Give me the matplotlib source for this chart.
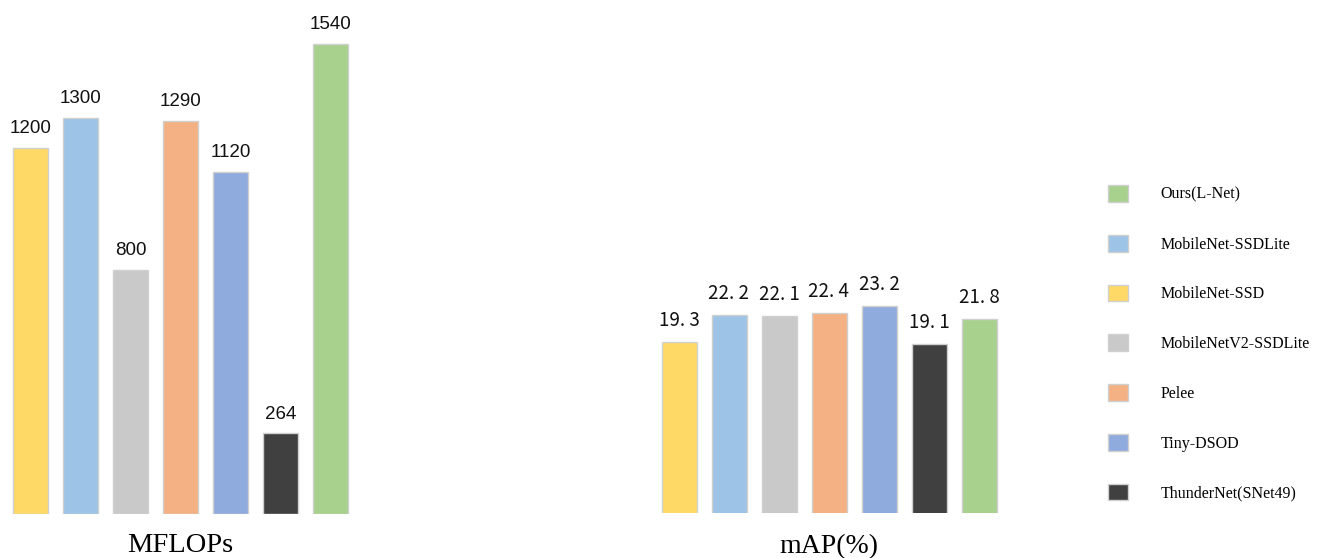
import matplotlib
matplotlib.use('Agg')
import matplotlib.pyplot as plt
from matplotlib.patches import Patch

# data
models = ['MobileNet-SSD', 'MobileNet-SSDLite', 'MobileNetV2-SSDLite', 'Pelee',
          'Tiny-DSOD', 'ThunderNet(SNet49)', 'Ours(L-Net)']
mflops = [1200, 1300, 800, 1290, 1120, 264, 1540]
map_vals = [19.3, 22.2, 22.1, 22.4, 23.2, 19.1, 21.8]
colors = ['#FFD966', '#9DC3E6', '#C9C9C9', '#F4B183', '#8FAADC', '#404040', '#A9D18E']
legend_order = ['Ours(L-Net)', 'MobileNet-SSDLite', 'MobileNet-SSD', 'MobileNetV2-SSDLite',
                'Pelee', 'Tiny-DSOD', 'ThunderNet(SNet49)']

W, H = 1320, 558
fig = plt.figure(figsize=(W / 100, H / 100), dpi=100)

def px_axes(x0, x1, y_top, y_bot):
    return fig.add_axes([x0 / W, 1 - y_bot / H, (x1 - x0) / W, (y_bot - y_top) / H])

x = list(range(len(models)))

# left panel: MFLOPs
ax1 = px_axes(0, 360, 20, 514)
ax1.bar(x, mflops, width=0.7, color=colors, edgecolor='#D0D0D0', linewidth=1)
for i, v in enumerate(mflops):
    ax1.text(i, v + 36, str(v), ha='center', va='bottom', fontsize=13.5,
             family=['Liberation Sans', 'DejaVu Sans'], color='#111111')
ax1.set_xlim(-0.61, 6.59)
ax1.set_ylim(0, 1620)
ax1.axis('off')
fig.text(180 / W, 1 - 552 / H, 'MFLOPs', ha='center', va='baseline', fontsize=20.5,
         family='Liberation Serif')

# right panel: mAP (value axis does not start at zero)
ax2 = px_axes(629, 1029, 20, 513)
ax2.bar(x, map_vals, width=0.7, color=colors, edgecolor='#D0D0D0', linewidth=1)
for i, v in enumerate(map_vals):
    ax2.text(i, v + 1.2, f'{v:.1f}'.replace('.', '. '), ha='center', va='bottom', fontsize=13.5,
             family=['Noto Sans CJK SC', 'DejaVu Sans'], color='#111111')
ax2.set_xlim(-1, 7)
ax2.set_ylim(1.0, 53.8)
ax2.axis('off')
fig.text(829 / W, 1 - 553 / H, 'mAP(%)', ha='center', va='baseline', fontsize=20,
         family='Liberation Serif')

# legend
handles = [Patch(facecolor=colors[models.index(m)], edgecolor='#D0D0D0', label=m)
           for m in legend_order]
fig.legend(handles=handles, loc='upper left', bbox_to_anchor=(1108 / W, 1 - 185 / H),
           frameon=False, borderpad=0, borderaxespad=0,
           prop={'family': 'Liberation Serif', 'size': 11.5},
           handlelength=1.25, handleheight=1.25, handletextpad=2.05, labelspacing=2.0)

fig.savefig('out.png', dpi=100)
